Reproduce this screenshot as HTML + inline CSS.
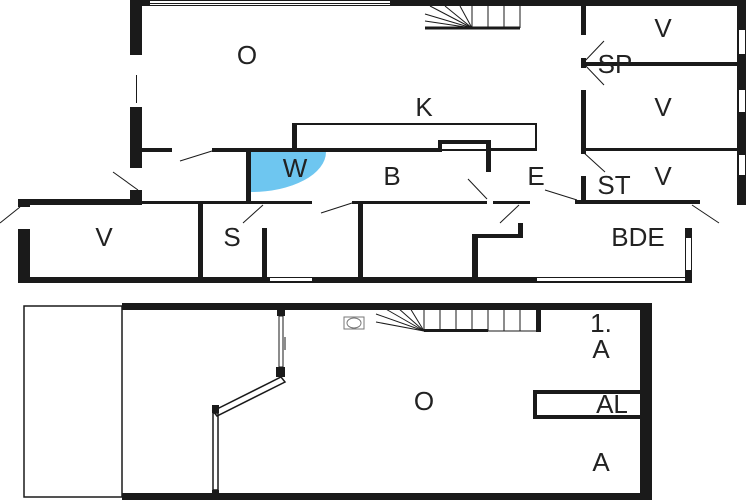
<!DOCTYPE html>
<html><head><style>
html,body{margin:0;padding:0;background:#fff;width:750px;height:500px;overflow:hidden}
text{font-family:"Liberation Sans",sans-serif;font-size:26px;fill:#222;text-anchor:middle}
</style></head><body>
<svg width="750" height="500" viewBox="0 0 750 500" xmlns="http://www.w3.org/2000/svg">
<g fill="#1a1a1a">
<rect x="130" y="0" width="615" height="6"/>
<rect x="150" y="1" width="240" height="4" fill="#fff"/>
<rect x="150" y="3" width="240" height="1"/>
<rect x="130" y="0" width="12" height="205"/>
<rect x="130" y="55" width="12" height="52" fill="#fff"/>
<rect x="136" y="75" width="1" height="28"/>
<rect x="130" y="168" width="12" height="22" fill="#fff"/>
<rect x="737" y="0" width="9" height="205"/>
<rect x="739" y="30" width="6" height="24" fill="#fff"/>
<rect x="739" y="90" width="6" height="22" fill="#fff"/>
<rect x="739" y="155" width="6" height="20" fill="#fff"/>
<rect x="142" y="148" width="30" height="4"/>
<rect x="212" y="148" width="226" height="4"/>
<rect x="438" y="140" width="4" height="12"/>
<rect x="438" y="140" width="52" height="4"/>
<rect x="486" y="140" width="5" height="32"/>
<rect x="490" y="148" width="46" height="3"/>
<rect x="246" y="150" width="5" height="52"/>
<rect x="293" y="124" width="4" height="26"/>
<rect x="581" y="5" width="5" height="30"/>
<rect x="581" y="58" width="5" height="10"/>
<rect x="581" y="90" width="5" height="64"/>
<rect x="581" y="176" width="5" height="26"/>
<rect x="585" y="62" width="155" height="4"/>
<rect x="585" y="148" width="155" height="3"/>
<rect x="18" y="199" width="124" height="6"/>
<rect x="142" y="201" width="170" height="3"/>
<rect x="352" y="201" width="135" height="3"/>
<rect x="493" y="201" width="37" height="3"/>
<rect x="575" y="200" width="125" height="4"/>
<rect x="18" y="199" width="12" height="84"/>
<rect x="18" y="207" width="12" height="22" fill="#fff"/>
<rect x="18" y="277" width="674" height="6"/>
<rect x="270" y="278" width="42" height="3" fill="#fff"/>
<rect x="537" y="278" width="165" height="3" fill="#fff"/>
<rect x="198" y="203" width="5" height="76"/>
<rect x="262" y="228" width="5" height="51"/>
<rect x="358" y="203" width="5" height="76"/>
<rect x="472" y="234" width="6" height="45"/>
<rect x="472" y="234" width="50" height="4"/>
<rect x="518" y="223" width="5" height="15"/>
<rect x="685" y="205" width="7" height="78"/>
<rect x="685" y="205" width="7" height="23" fill="#fff"/>
<rect x="686" y="238" width="5" height="32" fill="#fff"/>
<rect x="122" y="303" width="530" height="7"/>
<rect x="640" y="303" width="12" height="197"/>
<rect x="122" y="493" width="530" height="7"/>
<rect x="277" y="308" width="8" height="8"/>
<rect x="276" y="367" width="9" height="10"/>
<rect x="212" y="405" width="7" height="8"/>
<rect x="212" y="490" width="7" height="10"/>
<rect x="533" y="390" width="107" height="29"/>
<rect x="537" y="394" width="103" height="21" fill="#fff"/>
<rect x="536" y="308" width="5" height="24"/>
<rect x="424" y="329" width="64" height="3"/>
</g>
<g fill="none" stroke="#1a1a1a">
<rect x="24" y="306" width="98" height="191" stroke-width="1.5"/>
<rect x="279" y="316" width="4" height="51" stroke-width="1"/>
<line x1="285" y1="337" x2="285" y2="350"/>
<polygon points="281,377 285,382 217,416 213,411" stroke-width="1.5"/>
<rect x="213" y="413" width="5" height="77" stroke-width="1.5"/>
<rect x="293" y="124" width="243" height="26" stroke-width="2"/>
<rect x="344" y="317" width="20" height="12" stroke="#777"/>
<ellipse cx="354" cy="323" rx="7" ry="5" stroke="#777"/>
<g stroke-width="1">
<line x1="424" y1="308" x2="424" y2="331"/>
<line x1="440" y1="308" x2="440" y2="331"/>
<line x1="456" y1="308" x2="456" y2="331"/>
<line x1="472" y1="308" x2="472" y2="331"/>
<line x1="488" y1="308" x2="488" y2="331"/>
<line x1="504" y1="308" x2="504" y2="331"/>
<line x1="520" y1="308" x2="520" y2="331"/>
<line x1="488" y1="331" x2="536" y2="331"/>
<line x1="424" y1="331" x2="376" y2="314"/>
<line x1="424" y1="331" x2="376" y2="322"/>
<line x1="424" y1="331" x2="384" y2="308"/>
<line x1="424" y1="331" x2="398" y2="308"/>
<line x1="424" y1="331" x2="410" y2="308"/>
<line x1="425" y1="28" x2="520" y2="28" stroke-width="3"/>
<line x1="472" y1="5" x2="472" y2="28"/>
<line x1="488" y1="5" x2="488" y2="28"/>
<line x1="504" y1="5" x2="504" y2="28"/>
<line x1="520" y1="5" x2="520" y2="28"/>
<line x1="472" y1="28" x2="425" y2="14"/>
<line x1="472" y1="28" x2="425" y2="21"/>
<line x1="472" y1="28" x2="430" y2="6"/>
<line x1="472" y1="28" x2="445" y2="6"/>
<line x1="472" y1="28" x2="460" y2="6"/>
<line x1="212" y1="151" x2="180" y2="161"/>
<line x1="138" y1="190" x2="113" y2="172"/>
<line x1="20" y1="207" x2="0" y2="223"/>
<line x1="263" y1="205" x2="243" y2="223"/>
<line x1="352" y1="203" x2="321" y2="213"/>
<line x1="487" y1="199" x2="468" y2="179"/>
<line x1="519" y1="205" x2="500" y2="223"/>
<line x1="577" y1="200" x2="545" y2="190"/>
<line x1="583" y1="63" x2="604" y2="41"/>
<line x1="583" y1="63" x2="604" y2="85"/>
<line x1="583" y1="152" x2="605" y2="172"/>
<line x1="692" y1="205" x2="719" y2="223"/>
</g>
</g>
<path d="M251 152 L326 152 A75 40 0 0 1 251 192 Z" fill="#6ec6f0"/>
<text x="247" y="64">O</text>
<text x="424" y="116">K</text>
<text x="295" y="177">W</text>
<text x="392" y="185">B</text>
<text x="536" y="185">E</text>
<text x="663" y="37">V</text>
<text x="615" y="73">SP</text>
<text x="663" y="116">V</text>
<text x="663" y="185">V</text>
<text x="614" y="194">ST</text>
<text x="104" y="246">V</text>
<text x="232" y="246">S</text>
<text x="638" y="246">BDE</text>
<text x="424" y="410">O</text>
<text x="601" y="332">1.</text>
<text x="601" y="358">A</text>
<text x="612" y="413">AL</text>
<text x="601" y="471">A</text>
</svg>
</body></html>
